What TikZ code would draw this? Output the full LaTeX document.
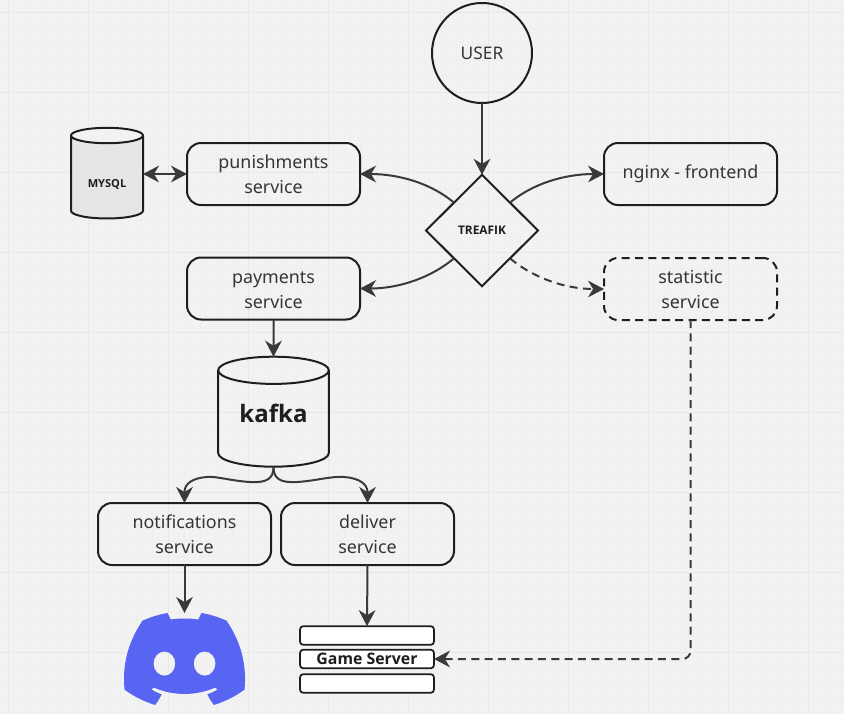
\documentclass[tikz,border=0pt]{standalone}
\usepackage{fontspec}
\setmainfont{Noto Sans}
\newfontfamily\bfont{Open Sans}[BoldFeatures={FakeBold=0}]
\newcommand\srt{\rule[-2pt]{0pt}{14.7pt}}
\usetikzlibrary{shapes.geometric,arrows.meta}
\definecolor{bgc}{HTML}{F2F2F2}
\definecolor{gridmaj}{HTML}{E8E8E8}
\definecolor{gridmin}{HTML}{EFEFEF}
\definecolor{inkc}{HTML}{1E1E1E}
\definecolor{arrc}{HTML}{3A3A3A}
\definecolor{cylc}{HTML}{E6E6E6}
\definecolor{discordc}{HTML}{5865F2}
\tikzset{
  x=0.75pt,y=-0.75pt,
  svc/.style={draw=inkc,line width=1.5pt,rounded corners=10.5pt,minimum width=129.75pt,minimum height=46.5pt,inner sep=0pt,outer sep=0pt,align=center,text=inkc!90,font=\fontsize{13.4}{18.75}\selectfont},
  bar/.style={draw=inkc,line width=1.3pt,fill=white,rounded corners=2.5pt,minimum width=100.5pt,minimum height=14pt,inner sep=0pt,outer sep=0pt,font=\fontsize{11.9}{13}\bfont\bfseries,text=inkc},
  con/.style={draw=arrc,line width=1.5pt,-{Stealth[length=12pt,width=12.5pt,inset=3.8pt]}},
}
\begin{document}
\begin{tikzpicture}
\useasboundingbox (0,0) rectangle (844,714);
\fill[bgc] (0,0) rectangle (844,714);
\foreach \k in {0,...,52} \draw[gridmin,line width=0.5pt] ({8+16*\k},0) -- ({8+16*\k},714);
\foreach \k in {0,...,44} \draw[gridmin,line width=0.5pt] (0,{12+16*\k}) -- (844,{12+16*\k});
\foreach \k in {0,...,10} \draw[gridmaj,line width=0.75pt] ({8+80*\k},0) -- ({8+80*\k},714);
\foreach \k in {0,...,8} \draw[gridmaj,line width=0.75pt] (0,{12+80*\k}) -- (844,{12+80*\k});

\node[circle,draw=inkc,line width=1.5pt,minimum size=75pt,inner sep=0pt,outer sep=0pt,font=\fontsize{13}{16}\selectfont,text=inkc!90] (user) at (482,53) {USER};
\node[diamond,draw=inkc,line width=1.5pt,minimum width=84pt,minimum height=83.5pt,inner sep=0pt,outer sep=0pt,font=\fontsize{8.9}{10}\bfont\bfseries,text=inkc] (treafik) at (482,230.5) {TREAFIK};
\node[svc] (pun) at (273.5,174) {\srt punishments\\\srt service};
\node[svc] (pay) at (273.5,288.5) {\srt payments\\\srt service};
\node[svc] (nginx) at (690.5,174) {\rule[-2pt]{0pt}{12.5pt}nginx - frontend};
\node[svc,dashed,dash pattern=on 6pt off 4pt] (stat) at (690.5,289) {\srt statistic\\\srt service};
\node[svc] (notif) at (184.5,534) {\srt notifications\\\srt service};
\node[svc] (deliver) at (367.5,534) {\srt deliver\\\srt service};
\node[cylinder,shape border rotate=90,aspect=0.4,draw=inkc,line width=1.5pt,cylinder uses custom fill,cylinder body fill=cylc,cylinder end fill=bgc,minimum width=54pt,minimum height=68pt,inner sep=0pt,outer sep=0pt,font=\fontsize{8.3}{10}\bfont\bfseries,text=inkc] (mysql) at (107,177.5) {\raisebox{-7.5pt}[0pt][0pt]{MYSQL}};
\node[cylinder,shape border rotate=90,aspect=0.4,draw=inkc,line width=1.5pt,minimum width=83pt,minimum height=82.5pt,inner sep=0pt,outer sep=0pt,font=\fontsize{18}{25}\bfont\bfseries,text=inkc] (kafka) at (273.5,419) {\raisebox{-2.6pt}[0pt][0pt]{kafka}};
\node[bar] (gs1) at (367,635.5) {};
\node[bar] (gs) at (367,659) {Game Server};
\node[bar] (gs3) at (367,683.5) {};

\node[inner sep=0pt,outer sep=0pt,minimum width=90.75pt,minimum height=69pt] (discord) at (184.5,659) {};
\begin{scope}[shift={(124,613)},xscale=0.952,yscale=0.955]
\fill[discordc,even odd rule]
 (107.7,8.07) .. controls (99.4,4.3) and (90.6,1.6) .. (81.47,0)
 .. controls (80.2,2.2) and (79.1,4.5) .. (78.11,6.83)
 .. controls (68.5,5.4) and (58.6,5.4) .. (49,6.83)
 .. controls (48,4.5) and (46.9,2.2) .. (45.64,0)
 .. controls (36.5,1.6) and (27.7,4.3) .. (19.39,8.09)
 .. controls (2.79,32.65) and (-1.71,56.6) .. (0.54,80.21)
 .. controls (10,87.2) and (21,92.7) .. (32.71,96.36)
 .. controls (35.3,92.9) and (37.6,89.2) .. (39.6,85.25)
 .. controls (35.8,83.8) and (32.2,82.1) .. (28.75,80.07)
 .. controls (29.66,79.41) and (30.55,78.73) .. (31.41,78.07)
 .. controls (51.4,87) and (75.7,87) .. (95.73,78.07)
 .. controls (96.6,78.78) and (97.49,79.46) .. (98.39,80.07)
 .. controls (94.9,82.2) and (91.3,83.9) .. (87.52,85.26)
 .. controls (89.5,89.1) and (91.8,92.8) .. (94.41,96.36)
 .. controls (106,92.7) and (117.1,87.2) .. (126.6,80.22)
 .. controls (129.24,52.84) and (122.09,29.11) .. (107.7,8.07) -- cycle
 (42.45,65.69) .. controls (36.18,65.69) and (31,60) .. (31,53)
 .. controls (31,46) and (36,40.26) .. (42.45,40.26)
 .. controls (48.9,40.26) and (54,46) .. (53.89,53)
 .. controls (53.8,60) and (48.84,65.69) .. (42.45,65.69) -- cycle
 (84.69,65.69) .. controls (78.41,65.69) and (73.25,60) .. (73.25,53)
 .. controls (73.25,46) and (78.25,40.26) .. (84.69,40.26)
 .. controls (91.1,40.26) and (96.23,46) .. (96.12,53)
 .. controls (96,60) and (91.08,65.69) .. (84.69,65.69) -- cycle;
\end{scope}

\draw[con] (user) -- (treafik);
\draw[con,{Stealth[length=12pt,width=12.5pt,inset=3.8pt]}-{Stealth[length=12pt,width=12.5pt,inset=3.8pt]}] (mysql.east |- pun.west) -- (pun.west);
\draw[con] (treafik.north west) .. controls (432,184) and (400,174) .. (pun.east);
\draw[con] (treafik.south west) .. controls (432,277) and (400,288.5) .. (pay.east);
\draw[con] (treafik.north east) .. controls (532,184) and (564,174) .. (nginx.west);
\draw[con,dashed,dash pattern=on 6pt off 4pt] (treafik.south east) .. controls (532,277) and (564,289) .. (stat.west);
\draw[con] (pay.south) -- (kafka.north);
\draw[con] (kafka.south) .. controls (273.5,478) and (268,483) .. (250,482) .. controls (232,481) and (216,476) .. (207,477) .. controls (192,478) and (184.5,484) .. (184.5,492) -- (notif.north);
\draw[con] (kafka.south) .. controls (273.5,478) and (279,483) .. (297,482) .. controls (315,481) and (331,476) .. (344,477) .. controls (359,478) and (367.5,484) .. (367.5,492) -- (deliver.north);
\draw[con] (notif.south) -- (discord.north);
\draw[con] (deliver.south) -- (gs1.north);
\draw[con,dashed,dash pattern=on 6pt off 4pt,rounded corners=6pt] (stat.south) |- (gs.east);
\end{tikzpicture}
\end{document}
